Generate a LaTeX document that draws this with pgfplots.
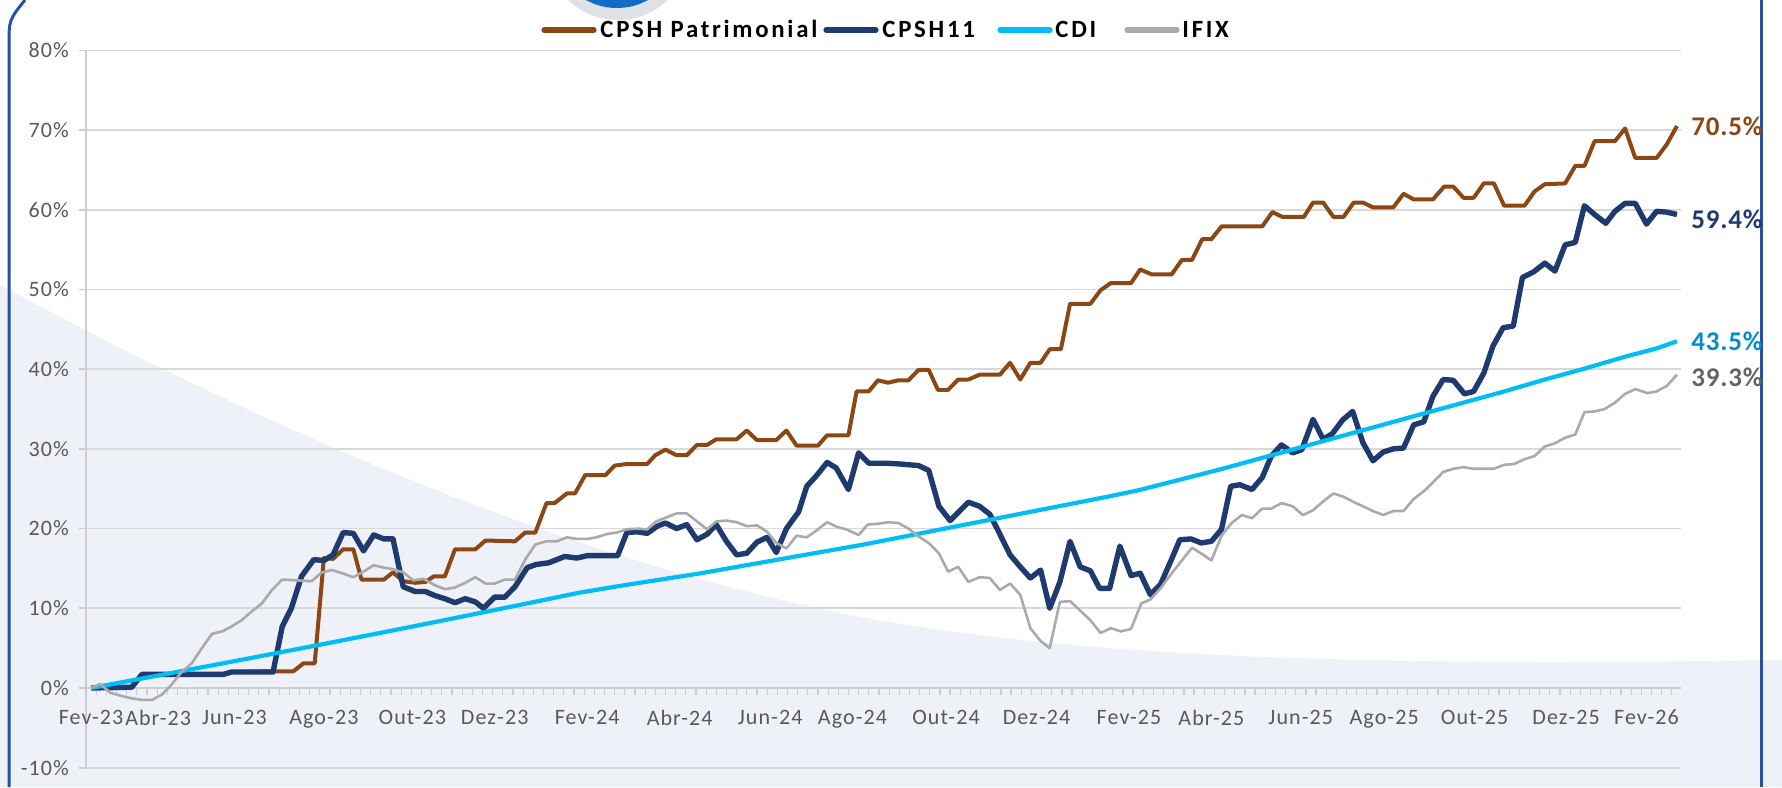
\documentclass[border=0pt]{standalone}
\usepackage{fontspec}
\setmainfont{Carlito}
\newfontfamily\tickfont[LetterSpace=5.0]{Carlito}
\newfontfamily\legfont[LetterSpace=11.0]{Carlito}
\newfontfamily\endfont[LetterSpace=3.0]{Carlito}
\usepackage{pgfplots}
\pgfplotsset{compat=1.18}

\definecolor{brownc}{RGB}{139,71,20}
\definecolor{navyc}{RGB}{30,58,110}
\definecolor{cyanc}{RGB}{0,190,245}
\definecolor{grayc}{RGB}{170,170,170}
\definecolor{cyanlab}{RGB}{0,142,200}
\definecolor{graylab}{RGB}{100,100,100}
\definecolor{labelc}{RGB}{89,89,89}
\definecolor{gridc}{RGB}{217,217,217}
\definecolor{axisc}{RGB}{205,205,205}
\definecolor{bgc}{RGB}{238,241,248}
\definecolor{framec}{RGB}{40,80,165}
\definecolor{logoc}{RGB}{16,108,196}
\definecolor{shadowc}{RGB}{222,225,231}

\begin{document}
\begin{tikzpicture}
\useasboundingbox (0,0) rectangle (891pt,393.5pt);

% decoration in reference pixels (1 px = 0.5pt, y downwards)
\begin{scope}[x=0.5pt, y=-0.5pt, yshift=393.5pt]
  \clip (0,0) rectangle (1782,787);
  \fill[bgc] (0,787) -- (0,285) .. controls (250,420) and (550,555) .. (850,615)
     .. controls (1100,662) and (1400,665) .. (1782,660) -- (1782,787) -- cycle;
  \fill[shadowc] (618,-52) circle (72);
  \fill[logoc] (617,-56) circle (64);
  \draw[framec, line width=1.5pt] (9,787) -- (9,45) .. controls (9,20) .. (25,0);
  \draw[framec, line width=1.5pt] (1761,0) -- (1761,787);

  % legend
  \draw[brownc, line width=2.6pt, line cap=round] (544,30) -- (594,30);
  \node[anchor=base west, inner sep=0] at (600,38) {\legfont\bfseries\fontsize{12.4}{14}\selectfont CPSH Patrimonial};
  \draw[navyc, line width=2.6pt, line cap=round] (826,30) -- (876,30);
  \node[anchor=base west, inner sep=0] at (882,38) {\legfont\bfseries\fontsize{12.4}{14}\selectfont CPSH11};
  \draw[cyanc, line width=2.6pt, line cap=round] (1000,30) -- (1050,30);
  \node[anchor=base west, inner sep=0] at (1055,38) {\legfont\bfseries\fontsize{12.4}{14}\selectfont CDI};
  \draw[grayc, line width=2.6pt, line cap=round] (1127,30) -- (1177,30);
  \node[anchor=base west, inner sep=0] at (1182,38) {\legfont\bfseries\fontsize{12.4}{14}\selectfont IFIX};
\end{scope}

\begin{axis}[
  at={(43pt,9.65pt)}, anchor=south west,
  scale only axis, width=797.5pt, height=358.7pt,
  xmin=-0.5, xmax=156.4, ymin=-10, ymax=80,
  axis x line=middle, axis y line=left,
  axis line style={-},
  every inner x axis line/.append style={-},
  every outer y axis line/.append style={-},
  x axis line style={draw=axisc, line width=0.9pt},
  y axis line style={draw=axisc, line width=0.9pt},
  clip=false,
  ytick={-10,0,...,80},
  yticklabels={-10\%,0\%,10\%,20\%,30\%,40\%,50\%,60\%,70\%,80\%},
  xtick={0,6.6,14.1,22.9,31.6,39.7,48.8,57.9,66.8,74.9,84.1,93.0,102.1,110.2,119.0,127.2,136.1,145.1,153.0},
  xticklabels={Fev-23,Abr-23,Jun-23,Ago-23,Out-23,Dez-23,Fev-24,Abr-24,Jun-24,Ago-24,Out-24,Dez-24,Fev-25,Abr-25,Jun-25,Ago-25,Out-25,Dez-25,Fev-26},
  minor xtick={-0.5,0.5,...,156.5},
  tick align=outside,
  major tick length=3.5pt,
  minor tick length=3.5pt,
  major x tick style={draw=none},
  minor x tick style={draw=axisc, line width=0.6pt},
  major y tick style={draw=axisc, line width=0.8pt},
  ymajorgrids=true,
  major grid style={draw=gridc, line width=0.8pt},
  ticklabel style={font=\tickfont\fontsize{11}{13}\selectfont, text=labelc},
  xticklabel style={yshift=-4pt},
  yticklabel style={xshift=-1.5pt},
]

% CPSH Patrimonial
\addplot[brownc, line width=2.0pt, line join=round] coordinates {
(0,0) (4.0,0.1) (5.0,1.7) (13.0,1.7) (13.8,2.0) (17.9,2.1) (19.9,2.1) (20.9,3.1) (22.0,3.1)
(22.9,16.3) (23.8,16.2) (24.8,17.4) (25.8,17.4) (26.6,13.6) (28.8,13.6) (29.7,14.5) (30.7,13.4)
(31.9,13.2) (32.9,13.3) (33.7,14.0) (34.8,14.0) (35.8,17.4) (37.8,17.4) (38.8,18.5) (41.7,18.4)
(42.7,19.5) (43.7,19.5) (44.8,23.2) (45.6,23.2) (46.8,24.4) (47.6,24.4) (48.6,26.7) (50.6,26.7)
(51.5,27.9) (52.7,28.1) (54.7,28.1) (55.5,29.2) (56.5,29.9) (57.6,29.2) (58.6,29.2) (59.6,30.5)
(60.6,30.5) (61.5,31.2) (63.5,31.2) (64.5,32.3) (65.5,31.1) (67.4,31.1) (68.4,32.3) (69.4,30.4)
(71.5,30.4) (72.4,31.7) (74.5,31.7) (75.3,37.2) (76.5,37.2) (77.4,38.6) (78.4,38.3) (79.4,38.6)
(80.4,38.6) (81.4,39.9) (82.4,39.9) (83.3,37.4) (84.3,37.4) (85.3,38.7) (86.3,38.7) (87.4,39.3)
(89.4,39.3) (90.4,40.8) (91.4,38.7) (92.4,40.8) (93.4,40.8) (94.3,42.5) (95.4,42.5) (96.3,48.2)
(98.3,48.2) (99.3,49.9) (100.3,50.8) (102.3,50.8) (103.2,52.5) (104.3,51.9) (106.3,51.9) (107.3,53.7)
(108.3,53.7) (109.3,56.3) (110.2,56.3) (111.2,57.9) (115.2,57.9) (116.2,59.7) (117.2,59.1) (119.3,59.1)
(120.2,60.9) (121.2,60.9) (122.2,59.1) (123.2,59.1) (124.2,60.9) (125.1,60.9) (126.1,60.3) (128.1,60.3)
(129.1,62.0) (130.1,61.3) (132.0,61.3) (133.1,62.9) (134.0,62.9) (135.0,61.5) (136.0,61.5) (137.0,63.3)
(138.0,63.3) (139.0,60.5) (141.0,60.5) (142.0,62.3) (143.0,63.2) (145.0,63.3) (146.0,65.5) (146.9,65.5)
(147.9,68.6) (149.9,68.6) (150.9,70.2) (151.9,66.5) (154.0,66.5) (155.0,68.2) (156.0,70.5)
};

% CPSH11
\addplot[navyc, line width=2.7pt, line join=round] coordinates {
(0,0) (4.0,0.1) (5.0,1.7) (13.0,1.7) (13.8,2.0) (17.9,2.0) (18.8,7.7) (19.7,10.0) (20.7,14.0)
(21.9,16.1) (22.9,16.0) (23.8,16.7) (24.8,19.5) (25.8,19.4) (26.8,17.2) (27.8,19.2) (28.8,18.7)
(29.7,18.7) (30.7,12.7) (31.9,12.1) (32.9,12.1) (33.8,11.6) (34.8,11.2) (35.8,10.7) (36.8,11.2)
(37.8,10.8) (38.6,10.0) (39.7,11.4) (40.7,11.4) (41.7,12.7) (42.9,15.1) (43.8,15.5) (45.0,15.7)
(46.6,16.5) (47.8,16.3) (48.8,16.6) (51.8,16.6) (52.7,19.5) (53.7,19.6) (54.7,19.4) (55.7,20.3)
(56.5,20.7) (57.6,20.0) (58.6,20.5) (59.6,18.6) (60.6,19.3) (61.5,20.5) (62.5,18.4) (63.5,16.7)
(64.5,16.9) (65.5,18.3) (66.5,18.9) (67.4,17.0) (68.4,20.0) (69.6,22.1) (70.4,25.3) (71.4,26.7)
(72.4,28.3) (73.3,27.6) (74.5,24.9) (75.5,29.5) (76.5,28.2) (78.2,28.2) (79.6,28.1) (81.4,27.9)
(82.4,27.3) (83.4,22.8) (84.5,21.0) (86.3,23.3) (87.4,22.8) (88.4,21.8) (89.2,19.8) (90.4,16.7)
(91.4,15.2) (92.4,13.8) (93.4,14.8) (94.3,10.0) (95.3,13.3) (96.3,18.4) (97.3,15.2) (98.3,14.7)
(99.2,12.5) (100.2,12.5) (101.2,17.8) (102.3,14.1) (103.2,14.4) (104.2,11.7) (105.2,13.0) (106.2,15.9)
(107.1,18.6) (108.2,18.7) (109.2,18.2) (110.2,18.4) (111.2,19.9) (112.1,25.3) (113.0,25.5) (114.2,24.9)
(115.2,26.4) (116.1,29.1) (117.1,30.5) (118.2,29.5) (119.1,29.9) (120.2,33.7) (121.2,31.2) (122.1,31.9)
(123.1,33.6) (124.1,34.7) (125.1,30.8) (126.1,28.5) (127.1,29.6) (128.1,30.0) (129.1,30.1) (130.1,33.0)
(131.1,33.4) (132.0,36.6) (133.0,38.7) (134.0,38.6) (135.1,36.9) (136.0,37.2) (137.0,39.5) (137.9,42.9)
(138.9,45.2) (139.9,45.4) (140.8,51.5) (141.9,52.2) (143.0,53.3) (144.0,52.3) (145.0,55.6) (146.0,55.9)
(146.9,60.5) (147.9,59.4) (149.0,58.3) (149.9,59.8) (150.9,60.8) (151.9,60.8) (153.0,58.2) (154.0,59.8)
(155.0,59.7) (156.0,59.4)
};

% CDI
\addplot[cyanc, line width=2.1pt, line join=round] coordinates {
(0,0) (4,0.95) (8,1.90) (12,2.86) (16,3.83) (20,4.81) (24,5.80) (28,6.80) (32,7.81) (36,8.83)
(40,9.86) (44,10.90) (48,11.95) (52,12.8) (56,13.6) (60,14.4) (64,15.3) (68,16.2) (72,17.1)
(76,18.0) (80,19.0) (84,20.0) (88,21.0) (92,22.0) (96,23.0) (100,24.0) (103,24.8) (107,26.1)
(111,27.4) (115,28.8) (119,30.2) (123,31.6) (127,33.0) (131,34.4) (135,35.8) (139,37.2)
(143,38.7) (147,40.1) (151,41.6) (154,42.6) (156,43.5)
};

% IFIX
\addplot[grayc, line width=1.3pt, line join=round] coordinates {
(0,0) (0.9,0.5) (1.9,-0.6) (3.0,-1.0) (4.0,-1.3) (5.0,-1.5) (6.0,-1.5) (7.0,-0.8) (7.9,0.4)
(8.9,2.0) (9.9,3.1) (10.9,5.0) (11.9,6.8) (12.9,7.1) (13.8,7.7) (14.8,8.5) (15.8,9.6) (16.8,10.6)
(17.8,12.3) (18.8,13.6) (21.7,13.4) (22.7,14.5) (23.7,14.8) (24.7,14.4) (25.8,13.9) (26.8,14.6)
(27.8,15.4) (28.8,15.1) (29.7,14.9) (30.7,14.5) (31.7,13.5) (32.7,13.7) (33.8,12.9) (34.8,12.4)
(35.8,12.6) (36.8,13.2) (37.8,13.9) (38.8,13.1) (39.7,13.1) (40.7,13.6) (41.7,13.6) (42.7,16.1)
(43.7,18.0) (44.8,18.4) (45.8,18.4) (46.8,18.9) (47.8,18.7) (48.8,18.7) (49.7,18.9) (50.7,19.3)
(51.7,19.5) (52.7,19.9) (53.7,20.0) (54.7,19.9) (55.6,20.9) (56.6,21.4) (57.6,21.9) (58.6,21.9)
(59.6,20.9) (60.6,19.9) (61.5,20.9) (62.5,21.0) (63.5,20.8) (64.5,20.3) (65.5,20.4) (66.5,19.6)
(67.4,18.2) (68.4,17.5) (69.4,19.1) (70.4,18.9) (71.4,19.8) (72.4,20.8) (73.4,20.2) (74.3,19.9)
(75.5,19.2) (76.4,20.5) (77.4,20.6) (78.4,20.8) (79.4,20.7) (80.4,20.0) (81.4,19.0) (82.4,18.2)
(83.4,16.9) (84.3,14.6) (85.3,15.2) (86.3,13.3) (87.4,13.9) (88.4,13.8) (89.4,12.3) (90.4,13.1)
(91.4,11.7) (92.4,7.5) (93.4,5.9) (94.3,5.0) (95.3,10.8) (96.3,10.9) (97.3,9.7) (98.3,8.5)
(99.3,6.9) (100.3,7.5) (101.3,7.1) (102.3,7.4) (103.3,10.6) (104.2,11.1) (105.2,12.5) (106.3,14.4)
(107.3,16.0) (108.3,17.6) (109.3,16.8) (110.2,16.0) (111.2,19.1) (112.2,20.7) (113.2,21.7) (114.2,21.3)
(115.2,22.5) (116.1,22.5) (117.1,23.2) (118.2,22.8) (119.2,21.7) (120.2,22.3) (121.2,23.4) (122.2,24.4)
(123.2,24.0) (124.1,23.4) (125.1,22.8) (126.1,22.2) (127.1,21.7) (128.1,22.2) (129.1,22.2) (130.1,23.7)
(131.2,24.8) (132.0,25.8) (133.0,27.1) (134.0,27.5) (135.0,27.7) (136.0,27.5) (138.0,27.5) (139.0,28.0)
(140.0,28.1) (141.0,28.7) (142.0,29.1) (143.0,30.3) (144.0,30.7) (145.0,31.4) (146.0,31.8) (146.9,34.6)
(147.9,34.7) (148.9,35.0) (149.9,35.8) (150.9,36.9) (151.9,37.5) (153.1,37.0) (154.0,37.2) (155.0,37.9)
(156.0,39.3)
};

\node[anchor=west, inner sep=0, xshift=7pt, text=brownc, font=\endfont\bfseries\fontsize{13.5}{15}\selectfont] at (axis cs:156,70.5) {70.5\%};
\node[anchor=west, inner sep=0, xshift=7pt, yshift=-2.5pt, text=navyc, font=\endfont\bfseries\fontsize{13.5}{15}\selectfont] at (axis cs:156,59.4) {59.4\%};
\node[anchor=west, inner sep=0, xshift=7pt, text=cyanlab, font=\endfont\bfseries\fontsize{13.5}{15}\selectfont] at (axis cs:156,43.5) {43.5\%};
\node[anchor=west, inner sep=0, xshift=7pt, yshift=-1.5pt, text=graylab, font=\endfont\bfseries\fontsize{13.5}{15}\selectfont] at (axis cs:156,39.3) {39.3\%};
\end{axis}
\end{tikzpicture}
\end{document}
